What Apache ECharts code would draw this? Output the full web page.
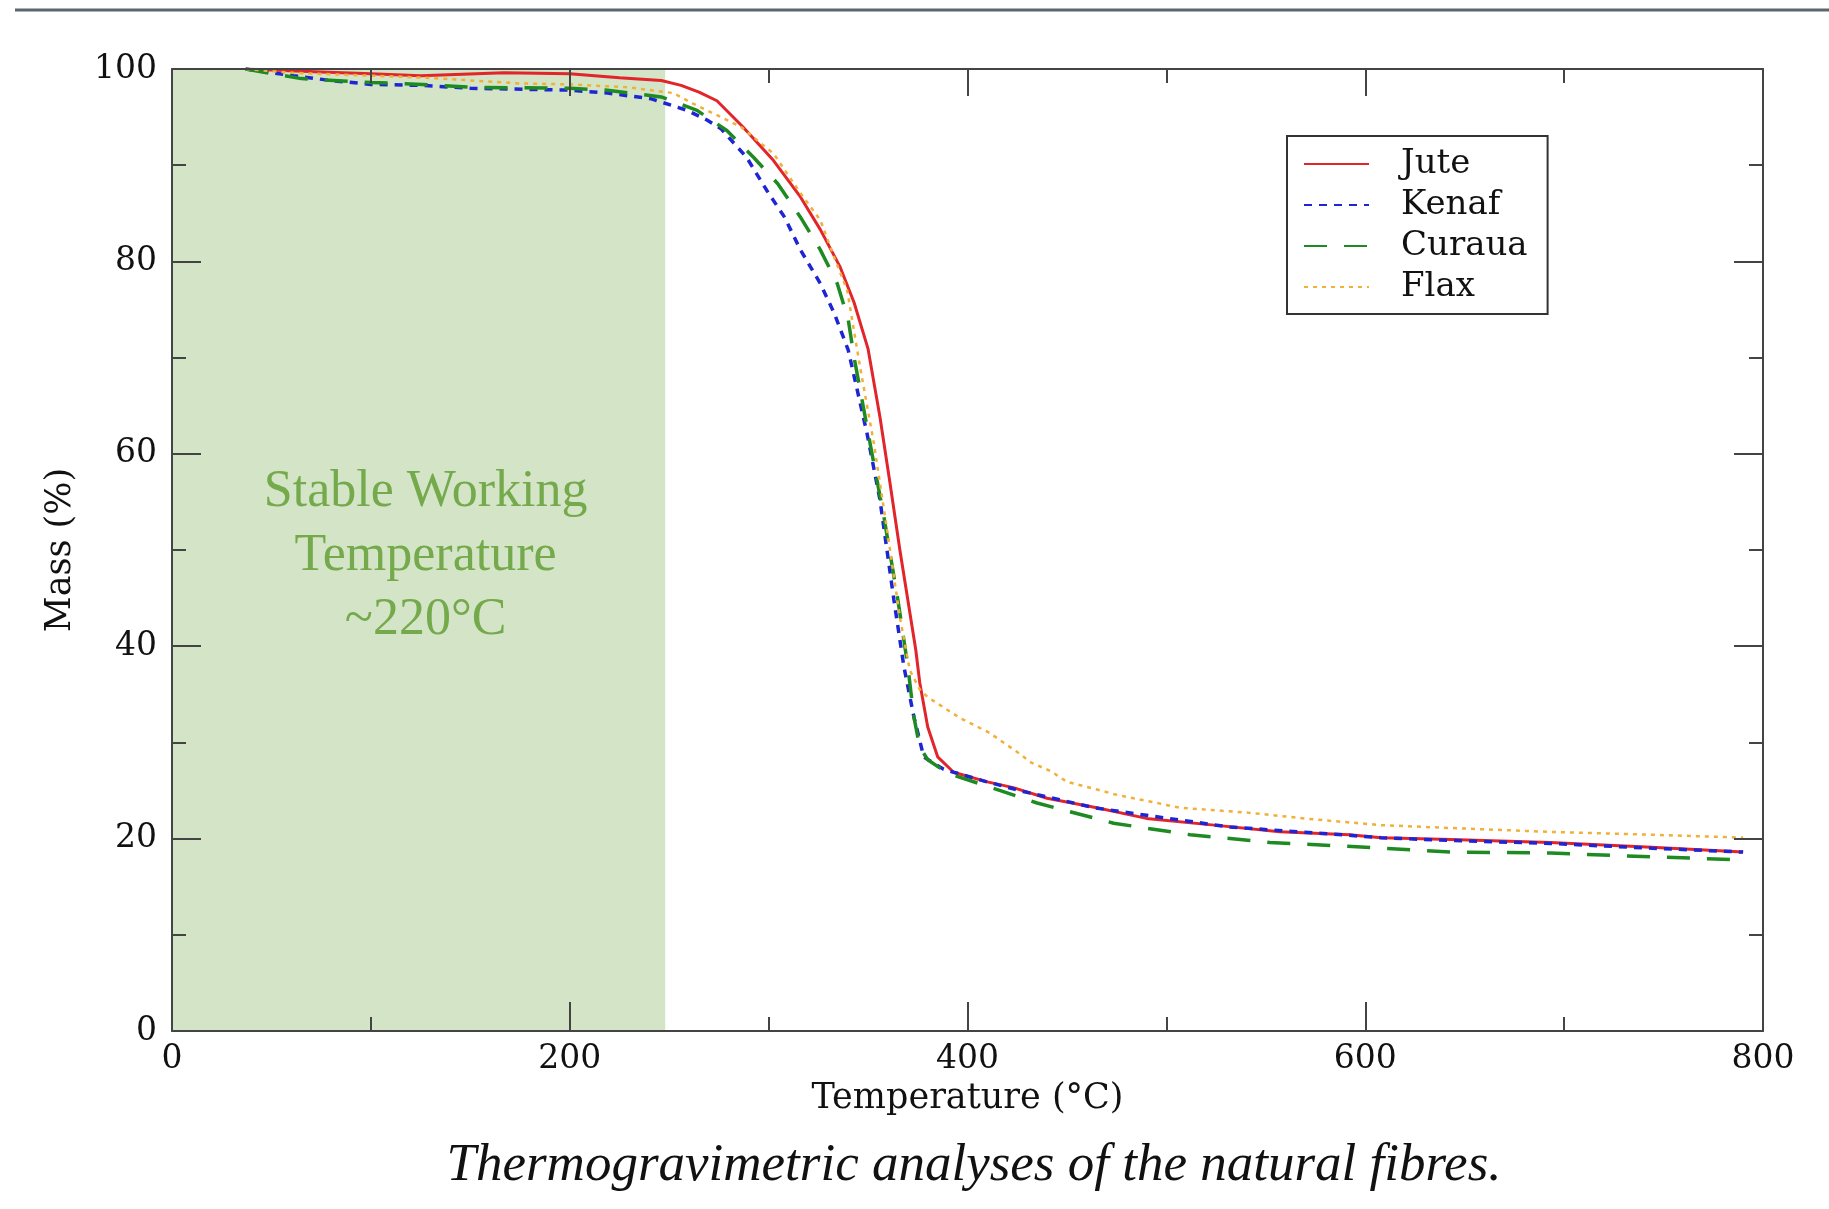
<!DOCTYPE html>
<html>
<head>
<meta charset="utf-8">
<title>TGA natural fibres</title>
<script src="https://cdn.jsdelivr.net/npm/echarts@6/dist/echarts.min.js"></script>
<style>
html,body{margin:0;padding:0;background:#fff;}
#tgaChart{width:1829px;height:1209px;}
</style>
</head>
<body>
<div id="tgaChart"></div>
<script>
// values: temperature (°C) and mass (%)
var juteTemp = [37, 50, 75, 100, 125, 167, 200, 225, 246, 256, 265, 274, 287, 302, 316, 326, 336, 343, 350, 356, 361, 366, 370, 374, 376, 380, 385, 393, 410, 423, 440, 465, 490, 524, 557, 592, 608, 643, 693, 744, 790];
var juteMass = [100, 99.9, 99.7, 99.5, 99.3, 99.6, 99.5, 99.1, 98.8, 98.3, 97.6, 96.7, 94.0, 90.6, 86.7, 83.3, 79.4, 75.7, 70.9, 63.8, 57.0, 50.0, 44.8, 39.6, 36.2, 31.6, 28.5, 26.9, 25.9, 25.3, 24.2, 23.2, 22.1, 21.4, 20.7, 20.4, 20.1, 19.9, 19.6, 19.1, 18.6];

var kenafTemp = [37, 61, 80, 100, 125, 150, 200, 219, 241, 259, 269, 276, 289, 299, 308, 316, 326, 333, 340, 349.5, 356, 363, 368, 373, 378, 388, 408, 428, 464, 494, 532, 574, 608, 643, 693, 744, 790];
var kenafMass = [100, 99.3, 98.8, 98.4, 98.3, 98.0, 97.8, 97.5, 96.9, 95.7, 94.7, 93.8, 90.8, 87.4, 84.6, 81.2, 77.7, 74.6, 70.8, 62.1, 55.2, 44.8, 37.9, 32.7, 28.5, 27.2, 26.0, 24.9, 23.2, 22.3, 21.2, 20.6, 20.1, 19.8, 19.5, 19.0, 18.6];

var curauaTemp = [37, 65, 100, 126, 150, 200, 219, 246, 264, 279, 292.5, 304.5, 316, 326, 334.5, 340, 343, 351, 358, 365, 370, 373, 376, 380, 390, 415, 435, 473.5, 512, 552, 591, 643, 693, 744, 789];
var curauaMass = [100, 99.0, 98.6, 98.4, 98.1, 98.0, 97.8, 97.1, 95.7, 93.6, 90.8, 88.1, 84.6, 81.2, 77.7, 74.0, 70.0, 61.1, 53.4, 44.8, 37.9, 32.7, 29.5, 28.2, 26.8, 25.1, 23.7, 21.6, 20.4, 19.6, 19.2, 18.6, 18.5, 18.1, 17.8];

var flaxTemp = [37, 61, 100, 116, 135, 175, 200, 229, 252, 262, 286, 302.5, 316, 326, 333, 339.5, 346, 353, 360, 366, 371, 376, 380, 396.5, 411, 425, 432, 442, 450, 467, 474, 507, 541, 574, 608, 643, 693, 744, 790];
var flaxMass = [100, 99.6, 99.3, 99.2, 99.0, 98.5, 98.4, 98.1, 97.5, 96.4, 94.0, 91.2, 87.1, 84.3, 80.4, 77.0, 69.0, 61.0, 51.5, 43.0, 37.5, 35.5, 34.7, 32.5, 31.0, 29.0, 27.9, 27.0, 25.9, 25.0, 24.6, 23.2, 22.7, 22.0, 21.4, 21.1, 20.7, 20.4, 20.1];

var seriesNames = ['Jute', 'Kenaf', 'Curaua', 'Flax'];
var xTicks = [0, 800, 200];   // min, max, interval
var yTicks = [0, 100, 20];
var stableRange = [0, 248];
var stableLabel = 'Stable Working\nTemperature\n~220°C';
var caption = 'Thermogravimetric analyses of the natural fibres.';

function pairs(t, m) {
	var out = [];
	for (var i = 0; i < t.length; i++) {
		out.push([t[i], m[i]]);
	}
	return out;
}

var tickFont = 'DejaVu Serif';
var axisColor = '#444';

function makeAxis(pos, range, showLabel, name) {
	return {
		type: 'value',
		position: pos,
		min: range[0],
		max: range[1],
		interval: range[2],
		z: 10,
		name: name || '',
		nameLocation: 'middle',
		nameGap: (pos === 'bottom') ? 50 : 94,
		nameTextStyle: {fontFamily: tickFont, fontSize: 35, color: '#111'},
		axisLine: {show: true, onZero: false, lineStyle: {color: axisColor, width: 2}},
		axisTick: {show: true, inside: true, length: (pos === 'top') ? 27 : 29, lineStyle: {color: axisColor, width: 2}},
		minorTick: {show: true, splitNumber: 2, length: 14, lineStyle: {color: axisColor, width: 2}},
		axisLabel: {show: showLabel, fontFamily: tickFont, fontSize: 33, color: '#111', margin: (pos === 'bottom') ? 12 : 15},
		splitLine: {show: false},
		minorSplitLine: {show: false}
	};
}

var tgaChart = echarts.init(document.getElementById('tgaChart'));

var option_tga = {
	backgroundColor: '#fff',
	animation: false,
	grid: {left: 172, top: 69, right: 66, bottom: 178, containLabel: false},
	legend: {
		data: seriesNames,
		orient: 'vertical',
		left: 1287,
		top: 136,
		padding: [10, 20, 9, 16],
		itemGap: 5,
		itemWidth: 65,
		itemHeight: 2,
		itemStyle: {opacity: 0},
		backgroundColor: '#fff',
		borderColor: '#333',
		borderWidth: 2,
		textStyle: {fontFamily: tickFont, fontSize: 34, lineHeight: 36, color: '#111', padding: [0, 0, 0, 27]}
	},
	xAxis: [
		makeAxis('bottom', xTicks, true, 'Temperature (°C)'),
		makeAxis('top', xTicks, false)
	],
	yAxis: [
		makeAxis('left', yTicks, true, 'Mass (%)'),
		makeAxis('right', yTicks, false)
	],
	graphic: [
		{type: 'line', shape: {x1: 15, y1: 10, x2: 1829, y2: 10}, style: {stroke: '#5c6670', lineWidth: 3}},
		{type: 'text', x: 974, y: 1166, style: {text: caption, fill: '#111', font: 'italic 53px "Liberation Serif"', textAlign: 'center', textVerticalAlign: 'middle'}}
	],
	series: [
		{
			name: 'stable',
			type: 'line',
			data: [],
			silent: true,
			markArea: {
				silent: true,
				itemStyle: {color: '#d4e4c7'},
				label: {
					show: true,
					position: 'inside',
					offset: [7, 6],
					color: '#74aa4c',
					fontFamily: 'Liberation Serif',
					fontSize: 52,
					lineHeight: 64,
					align: 'center'
				},
				data: [[{name: stableLabel, xAxis: stableRange[0], yAxis: yTicks[0]}, {xAxis: stableRange[1], yAxis: yTicks[1]}]]
			}
		},
		{
			name: 'Jute',
			type: 'line',
			data: pairs(juteTemp, juteMass),
			showSymbol: false,
			symbol: 'none',
			lineStyle: {color: '#e2242b', width: 3, type: 'solid'},
			itemStyle: {color: '#e2242b'}
		},
		{
			name: 'Kenaf',
			type: 'line',
			data: pairs(kenafTemp, kenafMass),
			showSymbol: false,
			symbol: 'none',
			lineStyle: {color: '#1f25d2', width: 3.5, type: [8, 7]},
			itemStyle: {color: '#1f25d2'}
		},
		{
			name: 'Curaua',
			type: 'line',
			data: pairs(curauaTemp, curauaMass),
			showSymbol: false,
			symbol: 'none',
			lineStyle: {color: '#1e8a22', width: 3.5, type: [23, 17]},
			itemStyle: {color: '#1e8a22'}
		},
		{
			name: 'Flax',
			type: 'line',
			data: pairs(flaxTemp, flaxMass),
			showSymbol: false,
			symbol: 'none',
			lineStyle: {color: '#f0b03a', width: 2.5, type: [4, 5]},
			itemStyle: {color: '#f0b03a'}
		}
	]
};
tgaChart.setOption(option_tga);
</script>
</body>
</html>
